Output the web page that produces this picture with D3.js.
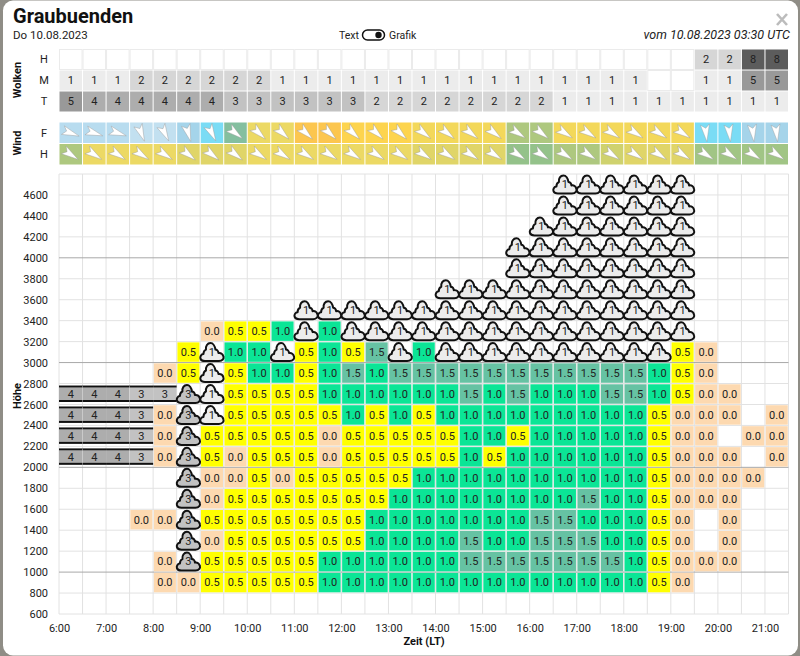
<!DOCTYPE html>
<html lang="de">
<head>
<meta charset="utf-8">
<title>Graubuenden</title>
<script src="https://cdn.jsdelivr.net/npm/d3@7"></script>
<style>
html, body { margin: 0; padding: 0; background: #8f8d86; overflow: hidden; }
svg { display: block; font-family: Roboto, sans-serif; }
.axis path { display: none; }
.axis text { font-family: Roboto, sans-serif; font-size: 11px; fill: #222; }
</style>
</head>
<body>
<svg width="800" height="656"></svg>
<script>

// half hour slots, local time
var times = [6, 6.5, 7, 7.5, 8, 8.5, 9, 9.5, 10, 10.5, 11, 11.5, 12, 12.5, 13, 13.5, 14, 14.5,
  15, 15.5, 16, 16.5, 17, 17.5, 18, 18.5, 19, 19.5, 20, 20.5, 21];
var hourTicks = [6, 7, 8, 9, 10, 11, 12, 13, 14, 15, 16, 17, 18, 19, 20, 21];
var heightTicks = [600, 800, 1000, 1200, 1400, 1600, 1800, 2000, 2200, 2400, 2600, 2800, 3000,
  3200, 3400, 3600, 3800, 4000, 4200, 4400, 4600];

// cloud cover in octas, 0 = none
var cloudsH = [0,0,0,0,0, 0,0,0,0,0, 0,0,0,0,0, 0,0,0,0,0, 0,0,0,0,0, 0,0,2,2,8, 8];
var cloudsM = [1,1,1,2,2, 2,2,2,2,1, 1,1,1,1,1, 1,1,1,1,1, 1,1,1,1,1, 0,0,1,1,5, 5];
var cloudsT = [5,4,4,4,4, 4,4,3,3,3, 3,3,3,2,2, 2,2,2,2,2, 2,1,1,1,1, 1,1,1,1,1, 1];

// wind: speed class and the bearing the arrow points to
var windSpeedF = [3,3,3,2,2, 4,5,6,11,11, 14,14,13,13,13, 12,12,12,12,8, 8,12,12,12,12, 12,12,5,5,4, 4];
var windDirF = [112,110,110,160,155, 165,155,130,135,135, 135,135,135,135,135, 130,130,130,130,125,
  130,125,125,125,125, 125,125,175,175,175, 175];
var windSpeedH = [8,11,11,11,11, 10,10,10,11,11, 11,11,11,11,11, 10,10,10,10,7, 7,8,8,9,10, 10,10,7.5,7.5,7.5, 7.5];
var windDirH = [125,125,125,125,125, 130,130,130,125,125, 125,125,125,125,125, 125,125,125,125,125,
  125,125,125,125,125, 125,125,125,125,125, 125];

// one row per height band, - empty, cN cumulus, sN stratus, number = thermal
var rowHeights = [800, 1000, 1200, 1400, 1600, 1800, 2000, 2200, 2400, 2600, 2800, 3000,
  3200, 3400, 3600, 3800, 4000, 4200, 4400, 4600];
var rows = [
  "- - - - 0.0  0.0 0.5 0.5 0.5 0.5  0.5 1.0 1.0 1.0 1.0  1.0 1.0 1.0 1.0 1.0  1.0 1.0 1.0 1.0 1.0  0.5 0.0 - - -  -",
  "- - - - 0.0  c3 0.5 0.5 0.5 0.5  0.5 1.0 1.0 1.0 1.0  1.0 1.0 1.5 1.5 1.5  1.5 1.5 1.5 1.5 1.0  0.5 0.0 0.0 0.0 -  -",
  "- - - - -  c3 0.0 0.5 0.5 0.5  0.5 0.5 0.5 1.0 1.0  1.0 1.0 1.5 1.0 1.0  1.5 1.5 1.5 1.0 1.0  0.5 0.0 - 0.0 -  -",
  "- - - 0.0 0.0  c3 0.5 0.5 0.5 0.5  0.5 0.5 0.5 1.0 1.0  1.0 1.0 1.0 1.0 1.0  1.5 1.5 1.0 1.0 1.0  0.5 0.0 - 0.0 -  -",
  "- - - - -  c3 0.0 0.5 0.5 0.5  0.5 0.5 0.5 0.5 1.0  1.0 1.0 1.0 1.0 1.0  1.0 1.0 1.5 1.0 1.0  0.5 0.0 0.0 0.0 -  -",
  "- - - - -  c3 0.0 0.0 0.5 0.0  0.5 0.5 0.5 0.5 0.5  1.0 1.0 1.0 1.0 1.0  1.0 1.0 1.0 1.0 1.0  0.5 0.0 0.0 0.0 0.0  -",
  "s4 s4 s4 s3 0.0  c3 0.5 0.0 0.5 0.5  0.5 0.0 0.5 0.5 0.5  0.5 0.5 1.0 0.5 1.0  1.0 1.0 1.0 1.0 1.0  0.5 0.0 0.0 0.0 -  0.0",
  "s4 s4 s4 s3 0.0  c3 0.5 0.5 0.5 0.5  0.5 0.0 0.5 0.5 0.5  0.5 0.5 1.0 1.0 0.5  1.0 1.0 1.0 1.0 1.0  0.5 0.0 0.0 - 0.0  0.0",
  "s4 s4 s4 s3 0.0  c3 c1 0.5 0.5 0.5  0.5 0.5 1.0 0.5 1.0  0.5 1.0 1.0 1.0 1.0  1.0 1.0 1.0 1.0 1.0  0.5 0.0 0.0 0.0 -  0.0",
  "s4 s4 s4 s3 s3  c3 c1 0.5 0.5 0.5  0.5 1.0 1.0 1.0 1.0  1.0 1.0 1.5 1.0 1.5  1.0 1.0 1.0 1.5 1.5  1.0 0.5 0.0 0.0 -  -",
  "- - - - 0.0  0.5 c1 0.5 1.0 1.0  0.5 1.0 1.5 1.0 1.5  1.5 1.5 1.5 1.5 1.5  1.5 1.5 1.5 1.5 1.5  1.0 0.5 0.0 - -  -",
  "- - - - -  0.5 c1 1.0 1.0 c1  0.5 1.0 0.5 1.5 c1  1.0 c1 c1 c1 c1  c1 c1 c1 c1 c1  c1 0.5 0.0 - -  -",
  "- - - - -  - 0.0 0.5 0.5 1.0  c1 1.0 c1 c1 c1  c1 c1 c1 c1 c1  c1 c1 c1 c1 c1  c1 c1 - - -  -",
  "- - - - -  - - - - -  c1 c1 c1 c1 c1  c1 c1 c1 c1 c1  c1 c1 c1 c1 c1  c1 c1 - - -  -",
  "- - - - -  - - - - -  - - - - -  - c1 c1 c1 c1  c1 c1 c1 c1 c1  c1 c1 - - -  -",
  "- - - - -  - - - - -  - - - - -  - - - - c1  c1 c1 c1 c1 c1  c1 c1 - - -  -",
  "- - - - -  - - - - -  - - - - -  - - - - c1  c1 c1 c1 c1 c1  c1 c1 - - -  -",
  "- - - - -  - - - - -  - - - - -  - - - - -  c1 c1 c1 c1 c1  c1 c1 - - -  -",
  "- - - - -  - - - - -  - - - - -  - - - - -  - c1 c1 c1 c1  c1 c1 - - -  -",
  "- - - - -  - - - - -  - - - - -  - - - - -  - c1 c1 c1 c1  c1 c1 - - -  -"
];

var svg = d3.select("svg");

var x = d3.scaleLinear().domain([6, 21.5]).range([59, 788.5]);
var y = d3.scaleLinear().domain([600, 4800]).range([614, 174]);
var cloudY = d3.scaleBand().domain(["H", "M", "T"]).range([49, 112]);
var windY = d3.scaleBand().domain(["F", "H"]).range([122, 165]);
var colW = x(6.5) - x(6);
var rowH = y(800) - y(1000);

var cloudColor = d3.scaleOrdinal()
    .domain([0, 1, 2, 3, 4, 5, 8])
    .range(["#fff", "#ececec", "#d6d6d6", "#c2c2c2", "#adadad", "#999", "#5c5c5c"]);
var thermalColor = d3.scaleOrdinal()
    .domain(["0.0", "0.5", "1.0", "1.5"])
    .range(["#fdd9b0", "#ffff00", "#0be596", "#66c2a3"]);
var windColor = d3.scaleLinear()
    .domain([2, 3, 4, 5, 6, 7, 8, 9, 10, 11, 12, 13, 14])
    .range(["#c2e0f0", "#b8dcef", "#a5d4ea", "#7adcf5", "#84bf9f", "#94c28a", "#aec87f", "#cfd26e",
      "#e0d568", "#ecd964", "#f3d85a", "#fdd44e", "#fcc64f"]);

var cloudPath = "M-7,9 L7,9 C11,9 12,6 11.5,4.5 C11,2 9,0.5 6.5,1 C6.5,-1 5,-2.5 3.5,-2.5 " +
  "C3,-6 1,-9 -1.5,-9 C-4.5,-9 -6.5,-6 -6,-2.5 C-7.5,-2 -8.5,0 -8.5,2 C-11,2 -12,5 -11.5,6.5 " +
  "C-11,8 -9,9 -7,9 Z";
var dartPath = "M0,9 L-5,-8 L0,-4.5 L4,-8.5 Z";

// backdrop and dialog
svg.append("rect")
    .attr("x", 3).attr("y", 0.5)
    .attr("width", 795).attr("height", 655)
    .attr("rx", 10)
    .attr("fill", "#fff");

// header
svg.append("text").attr("x", 13).attr("y", 23)
    .style("font-size", "20px").style("font-weight", 700).attr("fill", "#111")
    .text("Graubuenden");
svg.append("text").attr("x", 13).attr("y", 39)
    .style("font-size", "11.5px").attr("fill", "#222")
    .text("Do 10.08.2023");
svg.append("text").attr("x", 339).attr("y", 39)
    .style("font-size", "10.5px").attr("fill", "#222")
    .text("Text");
svg.append("text").attr("x", 389).attr("y", 39)
    .style("font-size", "10.5px").attr("fill", "#222")
    .text("Grafik");
svg.append("rect")
    .attr("x", 362.5).attr("y", 30).attr("width", 22).attr("height", 10).attr("rx", 5)
    .attr("fill", "#fff").attr("stroke", "#111").attr("stroke-width", 1.5);
svg.append("circle").attr("cx", 378.5).attr("cy", 35).attr("r", 3.2).attr("fill", "#111");
svg.append("text").attr("x", 790).attr("y", 39).attr("text-anchor", "end")
    .style("font-size", "12.5px").style("font-style", "italic").attr("fill", "#222")
    .text("vom 10.08.2023 03:30 UTC");
svg.append("path")
    .attr("d", "M777,14 L787,25 M787,14 L777,25")
    .attr("stroke", "#bcbcbc").attr("stroke-width", 2.6);

// side labels
function sideLabel(text, cy) {
  svg.append("text")
      .attr("transform", "translate(21," + cy + ") rotate(-90)")
      .attr("text-anchor", "middle")
      .style("font-size", "11px").style("font-weight", 700).attr("fill", "#111")
      .text(text);
}
sideLabel("Wolken", 80);
sideLabel("Wind", 143);
sideLabel("Höhe", 396);

function rowLabel(text, cy) {
  svg.append("text")
      .attr("x", 44).attr("y", cy).attr("dy", "0.35em").attr("text-anchor", "middle")
      .style("font-size", "11px").attr("fill", "#222")
      .text(text);
}
cloudY.domain().forEach(function(k) { rowLabel(k, cloudY(k) + cloudY.bandwidth() / 2); });
windY.domain().forEach(function(k) { rowLabel(k, windY(k) + windY.bandwidth() / 2); });

// cloud table
[["H", cloudsH], ["M", cloudsM], ["T", cloudsT]].forEach(function(r) {
  var g = svg.append("g");
  var cell = g.selectAll("g").data(r[1]).enter().append("g")
      .attr("transform", function(d, i) { return "translate(" + x(times[i]) + "," + cloudY(r[0]) + ")"; });
  cell.append("rect")
      .attr("x", 0.5).attr("y", 0.5)
      .attr("width", colW - 1).attr("height", cloudY.bandwidth() - 1)
      .attr("fill", function(d) { return cloudColor(d); })
      .attr("stroke", function(d) { return d ? "none" : "#ebebeb"; });
  cell.filter(function(d) { return d > 0; }).append("text")
      .attr("x", colW / 2).attr("y", cloudY.bandwidth() / 2).attr("dy", "0.35em")
      .attr("text-anchor", "middle")
      .style("font-size", "11px").attr("fill", "#222")
      .text(function(d) { return d; });
});

// wind table
[["F", windSpeedF, windDirF], ["H", windSpeedH, windDirH]].forEach(function(r) {
  var cell = svg.append("g").selectAll("g").data(r[1]).enter().append("g")
      .attr("transform", function(d, i) { return "translate(" + x(times[i]) + "," + windY(r[0]) + ")"; });
  cell.append("rect")
      .attr("x", 0.5).attr("y", 0.5)
      .attr("width", colW - 1).attr("height", windY.bandwidth() - 1)
      .attr("fill", function(d) { return windColor(d); });
  cell.append("path")
      .attr("d", dartPath)
      .attr("transform", function(d, i) {
        return "translate(" + colW / 2 + "," + windY.bandwidth() / 2 + ") rotate(" + (r[2][i] - 180) + ")";
      })
      .attr("fill", "#fff").attr("stroke", "#999").attr("stroke-width", 0.4);
});

// grid
svg.append("g").selectAll("line").data(times.concat([21.5])).enter().append("line")
    .attr("x1", function(d) { return x(d); }).attr("x2", function(d) { return x(d); })
    .attr("y1", y(4800)).attr("y2", y(600))
    .attr("stroke", "#e2e2e2");
svg.append("g").selectAll("line").data(heightTicks.concat([4800])).enter().append("line")
    .attr("x1", x(6)).attr("x2", x(21.5))
    .attr("y1", function(d) { return y(d); }).attr("y2", function(d) { return y(d); })
    .attr("stroke", function(d) { return d % 1000 === 0 ? "#a8a8a8" : "#e2e2e2"; });

// axes
svg.append("g").attr("class", "axis")
    .attr("transform", "translate(" + x(6) + ",0)")
    .call(d3.axisLeft(y).tickValues(heightTicks).tickFormat(d3.format("d")).tickSize(0).tickPadding(11));
svg.append("g").attr("class", "axis")
    .attr("transform", "translate(0," + y(600) + ")")
    .call(d3.axisBottom(x).tickValues(hourTicks).tickFormat(function(h) { return h + ":00"; }).tickSize(0).tickPadding(10));
svg.append("text").attr("x", 424).attr("y", 645).attr("text-anchor", "middle")
    .style("font-size", "11px").style("font-weight", 700).attr("fill", "#111")
    .text("Zeit (LT)");

// flatten rows into cells
var cells = [];
rows.forEach(function(row, r) {
  row.trim().split(/\s+/).forEach(function(v, c) {
    if (v !== "-") cells.push({h: rowHeights[r], t: times[c], v: v});
  });
});
var thermals = cells.filter(function(d) { return /^\d\./.test(d.v); });
var stratus = cells.filter(function(d) { return d.v[0] === "s"; });
var cumulus = cells.filter(function(d) { return d.v[0] === "c"; })
    .sort(function(a, b) { return b.h - a.h || a.t - b.t; });

var thermal = svg.append("g").selectAll("g").data(thermals).enter().append("g")
    .attr("transform", function(d) { return "translate(" + x(d.t) + "," + y(d.h + 200) + ")"; });
thermal.append("rect")
    .attr("x", 0.75).attr("y", 0.75)
    .attr("width", colW - 1.5).attr("height", rowH - 1.5)
    .attr("fill", function(d) { return thermalColor(d.v); });
thermal.append("text")
    .attr("x", colW / 2).attr("y", rowH / 2).attr("dy", "0.35em").attr("text-anchor", "middle")
    .style("font-size", "11px").attr("fill", "#222")
    .text(function(d) { return d.v; });

var layer = svg.append("g").selectAll("g").data(stratus).enter().append("g")
    .attr("transform", function(d) { return "translate(" + x(d.t) + "," + y(d.h + 200) + ")"; });
layer.append("rect")
    .attr("x", 0).attr("y", 2.5)
    .attr("width", colW).attr("height", rowH - 5)
    .attr("fill", "#fff");
layer.append("rect")
    .attr("x", 0).attr("y", 4)
    .attr("width", colW).attr("height", rowH - 8)
    .attr("fill", function(d) { return cloudColor(+d.v.slice(1)); });
layer.append("line")
    .attr("x1", 0).attr("x2", colW).attr("y1", 3).attr("y2", 3)
    .attr("stroke", "#111").attr("stroke-width", 2);
layer.append("line")
    .attr("x1", 0).attr("x2", colW).attr("y1", rowH - 3.5).attr("y2", rowH - 3.5)
    .attr("stroke", "#111").attr("stroke-width", 2);
layer.append("text")
    .attr("x", colW / 2).attr("y", rowH / 2).attr("dy", "0.35em").attr("text-anchor", "middle")
    .style("font-size", "11px").attr("fill", "#222")
    .text(function(d) { return d.v.slice(1); });

var cumu = svg.append("g").selectAll("g").data(cumulus).enter().append("g")
    .attr("transform", function(d) { return "translate(" + (x(d.t) + colW / 2) + "," + (y(d.h + 200) + rowH / 2) + ")"; });
cumu.append("path")
    .attr("d", cloudPath)
    .attr("fill", function(d) { return cloudColor(+d.v.slice(1)); })
    .attr("stroke", "#111").attr("stroke-width", 2).attr("stroke-linejoin", "round");
cumu.append("text")
    .attr("x", 0).attr("y", 0).attr("dy", "0.35em").attr("text-anchor", "middle")
    .style("font-size", "11px").attr("fill", "#222")
    .text(function(d) { return d.v.slice(1); });

</script>
</body>
</html>
